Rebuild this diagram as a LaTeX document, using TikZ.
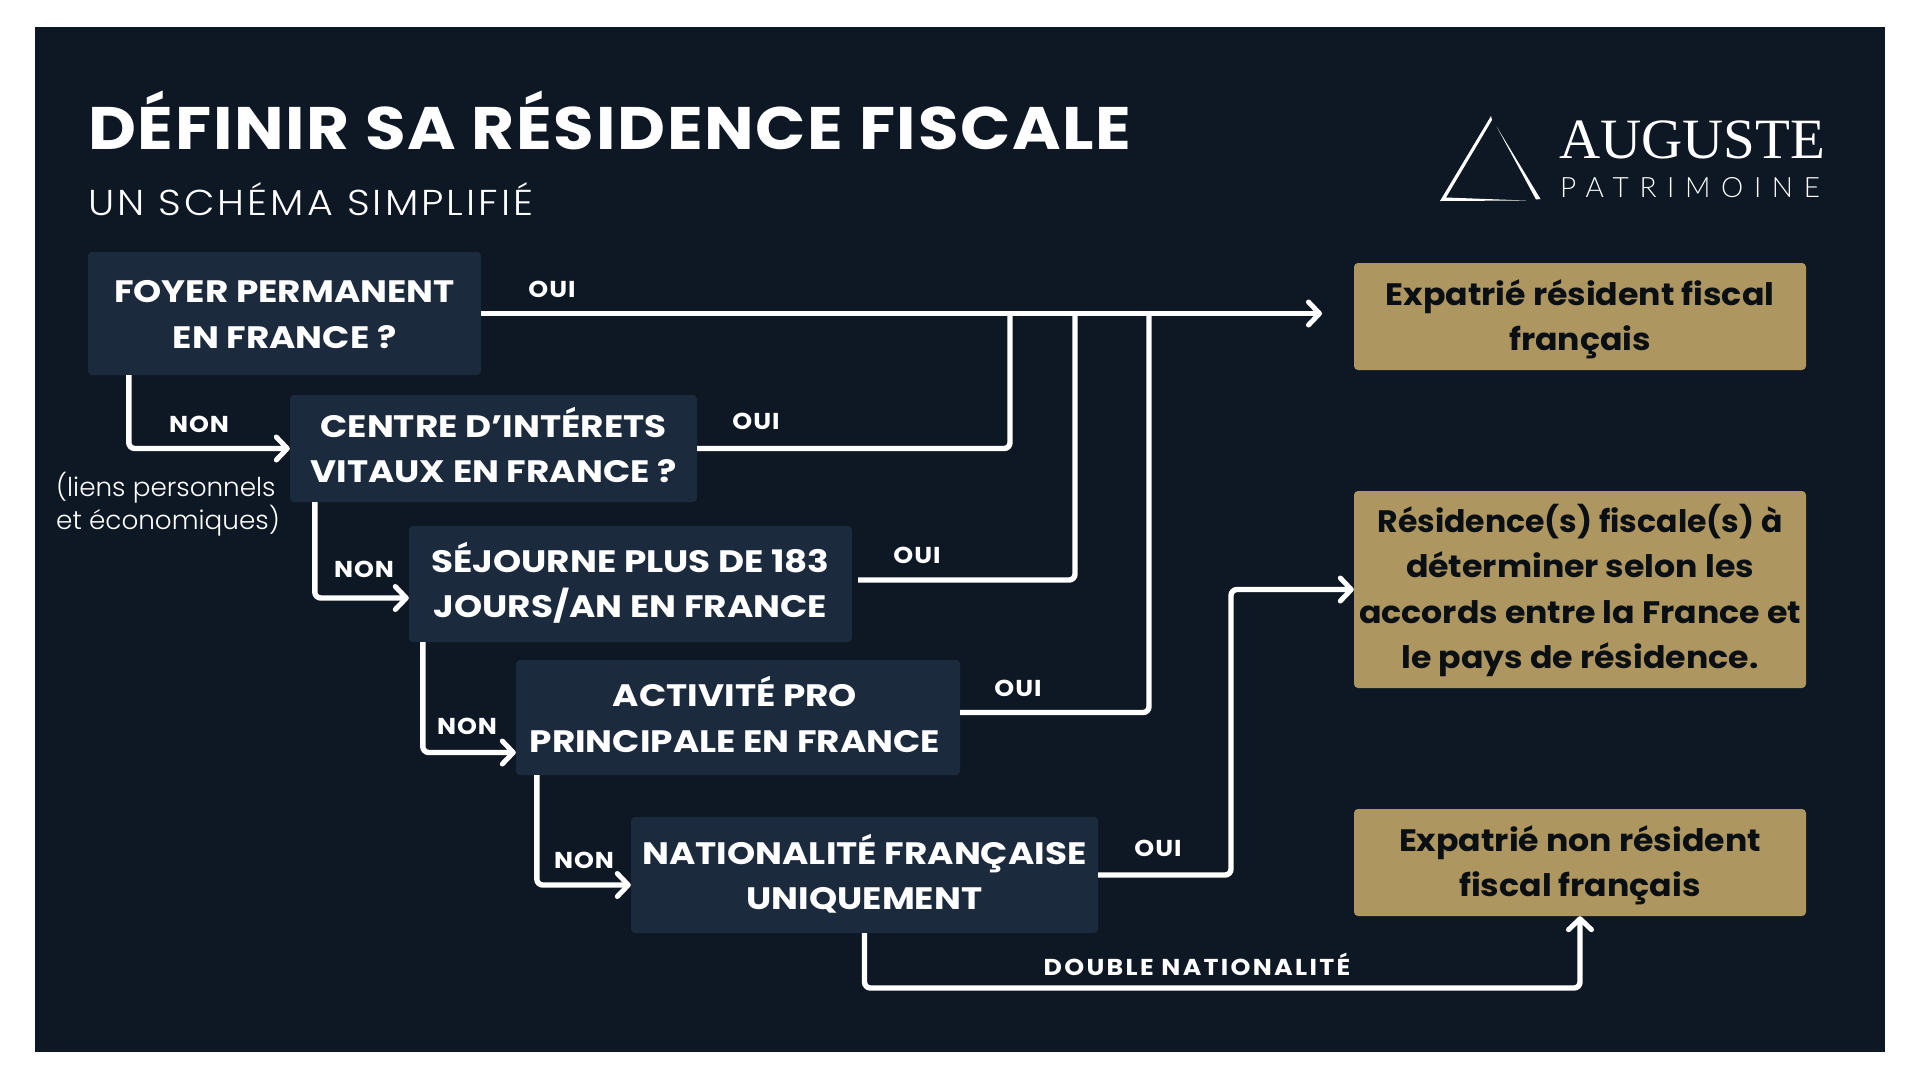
\documentclass[tikz,border=0pt]{standalone}
\usepackage{fontspec}
\setmainfont{Poppins}[UprightFont=*-SemiBold,BoldFont=*-Bold]
\newfontfamily\regf{Poppins}[UprightFont=*-Light,FakeStretch=1.01]
\newfontfamily\subf{Poppins}[UprightFont=*-Light,FakeStretch=1.1,LetterSpace=8.6]
\newfontfamily\titf{Poppins}[UprightFont=*-Bold,FakeStretch=1.1,LetterSpace=2.8]
\newfontfamily\qf{Poppins}[UprightFont=*-Bold,FakeStretch=1.155]
\newfontfamily\gf{Poppins}[UprightFont=*-Bold,FakeStretch=1.07]
\newfontfamily\gfn{Poppins}[UprightFont=*-Bold,FakeStretch=1.017]
\newfontfamily\labf{Poppins}[UprightFont=*-Bold,FakeStretch=1.1,LetterSpace=4]
\newfontfamily\dnf{Poppins}[UprightFont=*-Bold,FakeStretch=1.1,LetterSpace=10]
\newfontfamily\serf{Liberation Serif}
\newfontfamily\patf{Lato}[UprightFont=*-Light,LetterSpace=38]
\usetikzlibrary{arrows.meta}
\definecolor{bgc}{HTML}{0D1824}
\definecolor{boxc}{HTML}{1C2A3D}
\definecolor{goldc}{HTML}{AD9660}
\definecolor{inkc}{HTML}{0A0F14}
\tikzset{x=1pt,y=-1pt,
 qbox/.style={fill=boxc,rounded corners=4pt,inner sep=0pt},
 gbox/.style={fill=goldc,rounded corners=4pt,inner sep=0pt},
 qtext/.style={text=white,inner sep=0pt,font=\qf\fontsize{31}{45.3}\selectfont,align=center},
 gtext/.style={text=inkc,inner sep=0pt,font=\gf\fontsize{31}{45.3}\selectfont,align=center},
 lab/.style={text=white,inner sep=0pt,font=\labf\fontsize{23}{28}\selectfont},
 conn/.style={draw=white,line width=5.4pt,rounded corners=6pt},
 arr/.style={conn,-{Straight Barb[length=11pt,width=23pt,line width=5pt,round]}}
}
% #1 name, #2-#5 left right top bottom, #6 text, #7 text y offset, #8 text x offset
\newcommand{\qnode}[8]{\node[qbox,minimum width=#3pt-#2pt,minimum height=#5pt-#4pt] (#1) at ({(#2+#3)/2},{(#4+#5)/2}) {};\node[qtext] (#1t) at ({(#2+#3)/2+#8},{(#4+#5)/2+#7}) {#6};}
\newcommand{\gnode}[7]{\node[gbox,minimum width=#3pt-#2pt,minimum height=#5pt-#4pt] (#1) at ({(#2+#3)/2},{(#4+#5)/2}) {};\node[gtext] (#1t) at ({(#2+#3)/2},{(#4+#5)/2+#7}) {#6};}
\begin{document}
\begin{tikzpicture}
\useasboundingbox (0,0) rectangle (1920,1080);
\fill[white] (0,0) rectangle (1920,1080);
\fill[bgc] (35,27) rectangle (1885,1052);
\node[anchor=west,text=white,inner sep=0pt,font=\titf\fontsize{60}{60}\selectfont] (title) at (88,120) {DÉFINIR SA RÉSIDENCE FISCALE};
\node[anchor=west,text=white,inner sep=0pt,font=\subf\fontsize{36}{36}\selectfont] (sub) at (88,199) {UN SCHÉMA SIMPLIFIÉ};
\qnode{a}{88}{481}{252}{375}{FOYER PERMANENT\\EN FRANCE ?}{1}{0}
\qnode{b}{290}{697}{395}{502}{CENTRE D’INTÉRETS\\VITAUX EN FRANCE ?}{-3.5}{0}
\qnode{c}{409}{852}{526}{642}{SÉJOURNE PLUS DE 183\\JOURS/AN EN FRANCE}{-1}{0}
\qnode{d}{516}{960}{660}{775}{ACTIVITÉ PRO\\PRINCIPALE EN FRANCE}{-3}{-3}
\qnode{e}{631}{1098}{817}{933}{NATIONALITÉ FRANÇAISE\\UNIQUEMENT}{-1}{0}
\gnode{g}{1354}{1806}{263}{370}{Expatrié résident fiscal\\français}{3}
\gnode{h}{1354}{1806}{491}{688}{{\gfn Résidence(s) fiscale(s) à}\\déterminer selon les\\accords entre la France et\\le pays de résidence.}{1}
\gnode{i}{1354}{1806}{809}{916}{Expatrié non résident\\fiscal français}{3}
\coordinate (gin) at (1322,313.5);
\coordinate (jb) at (1010,313.5);
\coordinate (jc) at (1075,313.5);
\coordinate (jd) at (1149,313.5);
\coordinate (je) at (1231,700);
\coordinate (jf) at (1200,988);
\coordinate (cstart) at (858,580);
\draw[arr] (a.east) -- (gin);
\draw[conn] (b.east) -| (jb);
\draw[conn] (cstart) -| (jc);
\draw[conn] ([yshift=5pt]d.east) -| (jd);
\draw[arr] ([xshift=41pt]a.south west) |- (b.west);
\draw[arr] ([xshift=25pt]b.south west) |- ([yshift=-14pt]c.west);
\draw[arr] ([xshift=14pt]c.south west) |- ([yshift=-35pt]d.west);
\draw[arr] ([xshift=21pt]d.south west) |- ([yshift=-10pt]e.west);
\draw[arr] (e.east) -| (je) |- (h.west);
\draw[arr] (e.south) |- (jf) -| (i.south);
\node[lab] (o1) at (552,289) {OUI};
\node[lab] (o2) at (756,421) {OUI};
\node[lab] (o3) at (917,555) {OUI};
\node[lab] (o4) at (1018,688) {OUI};
\node[lab] (o5) at (1158,848) {OUI};
\node[lab] (n1) at (199,424) {NON};
\node[lab] (n2) at (364,569) {NON};
\node[lab] (n3) at (467,726) {NON};
\node[lab] (n4) at (584,860) {NON};
\node[text=white,inner sep=0pt,font=\dnf\fontsize{23}{28}\selectfont] (dn) at (1197,964) {DOUBLE NATIONALITÉ};
\node[text=white,inner sep=0pt,align=left,anchor=north west,font=\regf\fontsize{26}{33}\selectfont] (lp) at (56,472) {(liens personnels\\et économiques)};
% logo
\fill[white] (1491,116) -- (1440,201) -- (1526,200.5) -- (1446,197.5) -- (1492,120) -- cycle;
\fill[white] (1496.7,126.7) -- (1540.5,199) -- (1536,199.5) -- cycle;
\node[anchor=west,text=white,inner sep=0pt,font=\serf\fontsize{57}{57}\selectfont] (au) at (1559,140) {AUGUSTE};
\node[anchor=west,text=white,inner sep=0pt,font=\patf\fontsize{28}{28}\selectfont] (pa) at (1560,188) {PATRIMOINE};
\end{tikzpicture}
\end{document}
